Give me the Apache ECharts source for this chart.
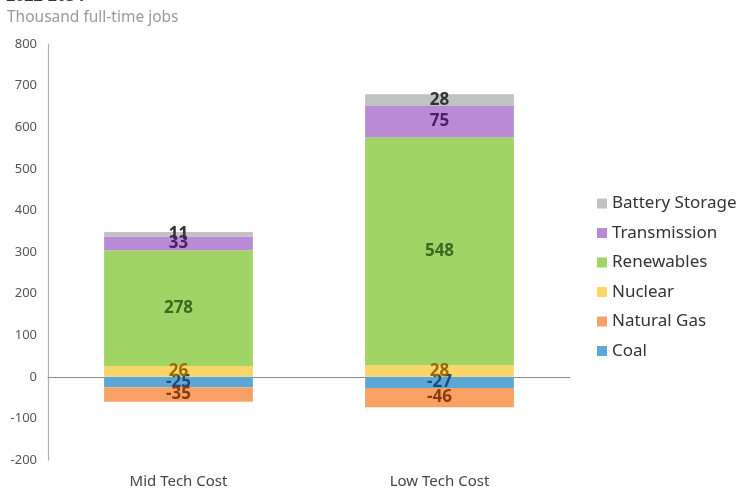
<!DOCTYPE html>
<html>
<head>
<meta charset="utf-8">
<script src="https://cdn.jsdelivr.net/npm/echarts@6/dist/echarts.min.js"></script>
<style>
  html, body { margin: 0; padding: 0; background: #fff; }
  #chart { width: 739px; height: 489px; }
</style>
</head>
<body>
<div id="chart"></div>
<script>
// Scenarios on the category axis
const categories = ['Mid Tech Cost', 'Low Tech Cost'];

// Change in employment by technology (thousand full-time jobs)
const coal = [-25, -27];
const naturalGas = [-35, -46];
const nuclear = [26, 28];
const renewables = [278, 548];
const transmission = [33, 75];
const batteryStorage = [11, 28];

// Y axis range
const yMin = -200;
const yMax = 800;
const yStep = 100;

const FONT = '"Noto Sans", "Open Sans", sans-serif';

function stackSeries(name, data, color, labelColor) {
  return {
    name: name,
    type: 'bar',
    stack: 'jobs',
    data: data,
    barWidth: '57%',
    itemStyle: { color: color },
    label: {
      show: true,
      position: 'inside',
      color: labelColor,
      fontFamily: FONT,
      fontSize: 17,
      fontWeight: 'bold'
    }
  };
}

const chart = echarts.init(document.getElementById('chart'), null, { renderer: 'canvas' });

chart.setOption({
  animation: false,
  backgroundColor: '#ffffff',
  graphic: [
    {
      type: 'text',
      left: 6,
      top: -12,
      style: { text: '2022-2034', fill: '#333', font: 'bold 16px ' + FONT }
    },
    {
      type: 'text',
      left: 7,
      top: 10,
      style: { text: 'Thousand full-time jobs', fill: '#9a9a9a', font: '15.5px ' + FONT }
    }
  ],
  grid: { left: 48, right: 169, top: 44, bottom: 29, containLabel: false },
  legend: {
    orient: 'vertical',
    left: 592,
    top: 190,
    itemWidth: 10,
    itemHeight: 10,
    itemGap: 12.5,
    icon: 'rect',
    textStyle: { fontFamily: FONT, fontSize: 17, color: '#333', padding: [0, 0, 0, 0] },
    data: ['Battery Storage', 'Transmission', 'Renewables', 'Nuclear', 'Natural Gas', 'Coal']
  },
  xAxis: {
    type: 'category',
    data: categories,
    axisLine: { show: true, onZero: true, lineStyle: { color: '#8c8c8c', width: 1.2 } },
    axisTick: { show: false },
    axisLabel: {
      fontFamily: FONT,
      fontSize: 15,
      color: '#444',
      margin: 14
    },
    position: 'bottom'
  },
  yAxis: {
    type: 'value',
    min: yMin,
    max: yMax,
    interval: yStep,
    splitLine: { show: false },
    axisLine: { show: true, lineStyle: { color: '#b0b0b0', width: 1.2 } },
    axisTick: { show: false },
    axisLabel: { fontFamily: FONT, fontSize: 13, color: '#555', margin: 11 }
  },
  series: [
    stackSeries('Coal', coal, '#5ba8d8', '#1f4a78'),
    stackSeries('Natural Gas', naturalGas, '#f9a164', '#8a3a10'),
    stackSeries('Nuclear', nuclear, '#fbd568', '#9a6a00'),
    stackSeries('Renewables', renewables, '#a0d466', '#3b6a1e'),
    stackSeries('Transmission', transmission, '#b98bd6', '#4a2066'),
    stackSeries('Battery Storage', batteryStorage, '#c2c2c2', '#333333')
  ]
});
</script>
</body>
</html>
